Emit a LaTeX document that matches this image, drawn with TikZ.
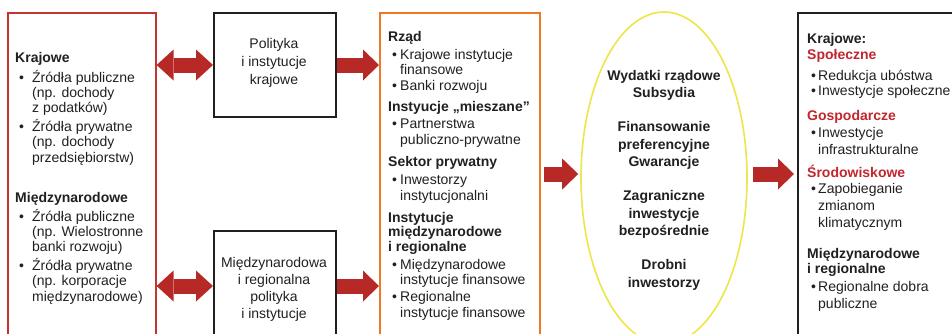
\documentclass[tikz,border=0pt]{standalone}
\usepackage{fontspec}
\setmainfont{Liberation Sans}
\usetikzlibrary{arrows.meta,shapes.geometric}
\definecolor{txt}{RGB}{35,31,32}
\definecolor{arr}{RGB}{183,41,39}
\definecolor{lred}{RGB}{196,52,48}
\definecolor{orng}{RGB}{240,118,40}
\definecolor{yell}{RGB}{236,230,72}
\definecolor{hred}{RGB}{193,39,45}
\newcommand\fl{\rule{0pt}{11pt}}
\newcommand\bA{\makebox[17pt][l]{\hspace{4pt}\textbullet}}
\newcommand\iA{\hspace*{17pt}}
\newcommand\bB{\makebox[12pt][l]{\hspace{4pt}\textbullet}}
\newcommand\iB{\hspace*{12pt}}
\newcommand\bC{\makebox[11pt][l]{\hspace{4pt}\textbullet}}
\newcommand\iC{\hspace*{11pt}}
\newcommand\hr[1]{\textcolor{hred}{\textbf{#1}}}
\tikzset{
  frame/.style={anchor=north west, inner sep=0pt, minimum width=#1},
  txtnode/.style={inner sep=0pt, text=txt},
  bigarr/.style={draw=arr, line width=15pt, -{Triangle[length=16pt,width=31pt,line width=0pt]}},
  dblarr/.style={draw=arr, line width=15pt, {Triangle[length=17pt,width=31pt,line width=0pt]}-{Triangle[length=17pt,width=31pt,line width=0pt]}}
}
\begin{document}
\begin{tikzpicture}[x=1pt,y=-1pt]
\useasboundingbox (0,0) rectangle (952,333);
\fill[white] (0,0) rectangle (952,333);
\begin{scope}
\clip (0,0) rectangle (952,333);
% frames
\node[frame=148pt, minimum height=330pt, draw=lred, line width=1.6pt] (src) at (7,12) {};
\node[frame=122pt, minimum height=104pt, draw=txt, line width=2pt] (pol) at (213,12) {};
\node[frame=122pt, minimum height=110pt, draw=txt, line width=2pt] (pol2) at (213,230) {};
\node[frame=160pt, minimum height=330pt, draw=orng, line width=1.8pt] (fin) at (379,12) {};
\node[ellipse, draw=yell, line width=1.6pt, inner sep=0pt, minimum width=166pt, minimum height=332pt] (ell) at (664,178) {};
\node[frame=200pt, minimum height=330pt, draw=txt, line width=2pt] (out) at (797,12) {};
% texts
\node[txtnode, anchor=north west, align=left, font=\fontsize{14}{15.3}\selectfont] (srctxt) at (15,51) {%
\fl\textbf{Krajowe}\\[4.7pt]
\bA Źródła publiczne\\
\iA (np. dochody\\
\iA z podatków)\\[3.5pt]
\bA Źródła prywatne\\
\iA (np. dochody\\
\iA przedsiębiorstw)\\[24.8pt]
\textbf{Międzynarodowe}\\[3.5pt]
\bA Źródła publiczne\\
\iA (np. Wielostronne\\
\iA banki rozwoju)\\[3.5pt]
\bA Źródła prywatne\\
\iA (np. korporacje\\
\iA międzynarodowe)};
\node[txtnode, anchor=north, align=center, font=\fontsize{14}{18}\selectfont] (poltxt) at (274,37) {%
\fl Polityka\\ i instytucje\\ krajowe};
\node[txtnode, anchor=north, align=center, font=\fontsize{14}{17}\selectfont] (pol2txt) at (274,256) {%
\fl Międzynarodowa\\ i regionalna\\ polityka\\ i instytucje};
\node[txtnode, anchor=north west, align=left, font=\fontsize{14}{15.8}\selectfont] (fintxt) at (388,30) {%
\fl\textbf{Rząd}\\[2pt]
\bB Krajowe instytucje\\
\iB finansowe\\
\bB Banki rozwoju\\[5pt]
\textbf{Instyucje „mieszane”}\\[1.5pt]
\bB Partnerstwa\\
\iB publiczno-prywatne\\[6pt]
\textbf{Sektor prywatny}\\[2.4pt]
\bB Inwestorzy\\
\iB instytucjonalni\\[6pt]
\textbf{Instytucje}\\[-1pt]
\textbf{międzynarodowe}\\[-1pt]
\textbf{i regionalne}\\[1.5pt]
\bB Międzynarodowe\\
\iB instytucje finansowe\\[1pt]
\bB Regionalne\\
\iB instytucje finansowe};
\node[txtnode, anchor=north, align=center, font=\fontsize{14}{17.5}\selectfont\bfseries] (elltxt) at (664,69) {%
\fl Wydatki rządowe\\ Subsydia\\[16.5pt]
Finansowanie\\ preferencyjne\\ Gwarancje\\[16.5pt]
Zagraniczne\\ inwestycje\\ bezpośrednie\\[16.5pt]
Drobni\\ inwestorzy};
\node[txtnode, anchor=north west, align=left, font=\fontsize{14}{16}\selectfont] (outtxt) at (807,32) {%
\fl\textbf{Krajowe:}\\
\hr{Społeczne}\\[5pt]
\bC Redukcja ubóstwa\\[-1pt]
\bC Inwestycje społeczne\\[9pt]
\hr{Gospodarcze}\\[1pt]
\bC Inwestycje\\[1pt]
\iC infrastrukturalne\\[7pt]
\hr{Środowiskowe}\\
\bC Zapobieganie\\[1pt]
\iC zmianom\\[1pt]
\iC klimatycznym\\[15pt]
\textbf{Międzynarodowe}\\[-1pt]
\textbf{i regionalne}\\[2pt]
\bC Regionalne dobra\\[1pt]
\iC publiczne};
% connectors
\coordinate (m1) at ([yshift=4pt]ell.west);
\coordinate (m2) at ([yshift=4pt]ell.east);
\draw[dblarr] (src.east |- pol.west) -- (pol.west);
\draw[dblarr] (src.east |- pol2.west) -- (pol2.west);
\draw[bigarr] (pol.east) -- (fin.west |- pol.east);
\draw[bigarr] (pol2.east) -- (fin.west |- pol2.east);
\draw[bigarr, shorten <=3pt, shorten >=2pt] (fin.east |- m1) -- (m1);
\draw[bigarr, shorten <=5pt, shorten >=3pt] (m2) -- (out.west |- m2);
\end{scope}
\end{tikzpicture}
\end{document}
